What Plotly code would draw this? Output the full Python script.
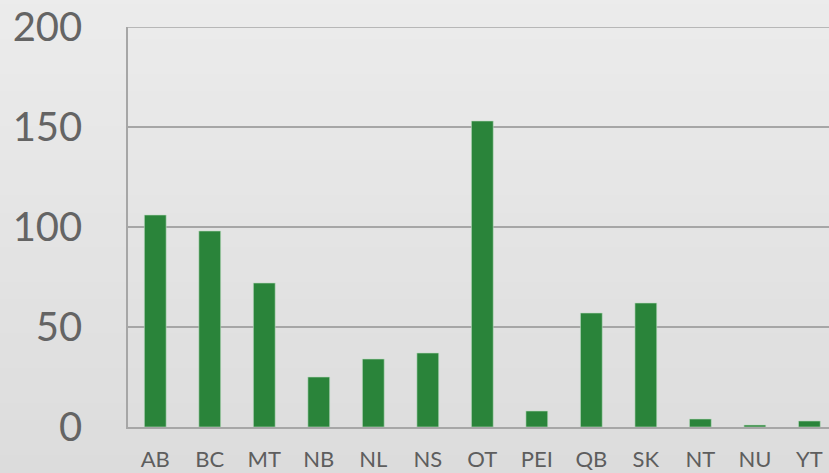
import plotly.graph_objects as go

categories = ["AB", "BC", "MT", "NB", "NL", "NS", "OT", "PEI", "QB", "SK", "NT", "NU", "YT"]
values = [106, 98, 72, 25, 34, 37, 153, 8, 57, 62, 4, 1, 3]
y_ticks = [0, 50, 100, 150, 200]

fig = go.Figure()
fig.add_trace(go.Bar(
    x=categories, y=values,
    width=0.4,
    marker=dict(color="#2a843a", line=dict(color="rgba(190,220,195,0.6)", width=1)),
))

# background vertical gradient
shapes = []
n = 30
top = (236, 236, 236)
bot = (219, 219, 219)
for i in range(n):
    t = i / (n - 1)
    c = tuple(round(top[k] + (bot[k] - top[k]) * t) for k in range(3))
    y1 = 1.1 - i * (1.3 / n)
    y0 = y1 - 1.3 / n - 0.002
    shapes.append(dict(type="rect", xref="paper", yref="paper", x0=-0.3, x1=1.1,
                       y0=y0, y1=y1, fillcolor="rgb(%d,%d,%d)" % c,
                       line=dict(width=0), layer="below"))
# top gridline at max tick
shapes.append(dict(type="line", xref="paper", yref="y", x0=0, x1=1,
                   y0=y_ticks[-1], y1=y_ticks[-1],
                   line=dict(color="#a6a6a6", width=1.5), layer="below"))

fig.update_layout(
    width=829, height=473,
    margin=dict(l=128, r=0, t=27, b=46),
    paper_bgcolor="#e4e4e4",
    plot_bgcolor="rgba(0,0,0,0)",
    showlegend=False,
    shapes=shapes,
    bargap=0.6,
    xaxis=dict(
        range=[-0.5, 12.36],
        showgrid=False,
        showline=True, linecolor="#a6a6a6", linewidth=1.5,
        tickfont=dict(family="Lato", size=22, color="#5e5e5e"),
        ticks="", ticklabelstandoff=12,
        zeroline=False,
    ),
    yaxis=dict(
        range=[0, 200],
        tickvals=y_ticks,
        showgrid=True, gridcolor="#a6a6a6", gridwidth=1.5,
        showline=True, linecolor="#a6a6a6", linewidth=1.5,
        tickfont=dict(family="Lato", size=40, color="#646464"),
        ticks="", ticklabelstandoff=36,
        zeroline=False,
    ),
)

fig.write_html("out.html", config={"displayModeBar": False},
               post_script="document.body.style.margin='0';document.body.style.overflow='hidden';")
